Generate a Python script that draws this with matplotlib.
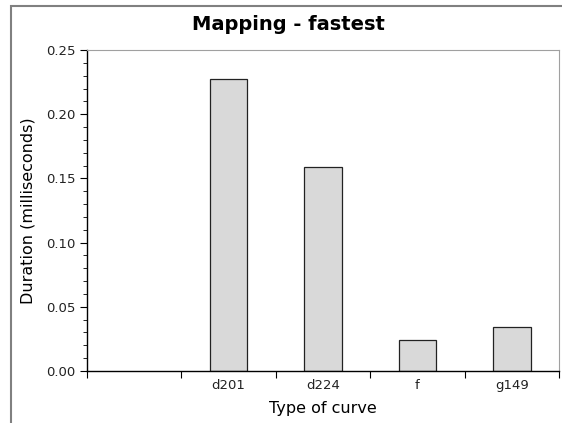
import matplotlib
matplotlib.use("Agg")
from matplotlib import pyplot as plt
from matplotlib.patches import Rectangle
from matplotlib.ticker import MultipleLocator

curves = ["d201", "d224", "f", "g149"]
durations = [0.2274, 0.1589, 0.0241, 0.0343]
positions = [1.5, 2.5, 3.5, 4.5]

fig = plt.figure(figsize=(5.62, 4.23), dpi=100)
# outer frame, running off the right and bottom edges
fig.patches.append(Rectangle((11 / 562, -0.05), 1.0, (423 - 6) / 423 + 0.05,
                             transform=fig.transFigure, fill=False,
                             edgecolor="#808080", linewidth=1.5))

ax = fig.add_axes([87 / 562, 52 / 423, 472 / 562, 321 / 423])
ax.bar(positions, durations, width=0.4, color="#d9d9d9",
       edgecolor="#222222", linewidth=0.9)

ax.set_xlim(0, 5)
ax.set_ylim(0, 0.25)
ax.set_xticks(range(6))
ax.set_xticklabels([])
ax.set_xticks(positions, minor=True)
ax.set_xticklabels(curves, minor=True)
ax.tick_params(axis="x", which="major", length=5, direction="out")
ax.tick_params(axis="x", which="minor", length=0, labelsize=9.5, pad=6,
               labelcolor="#222222")

ax.yaxis.set_major_locator(MultipleLocator(0.05))
ax.yaxis.set_minor_locator(MultipleLocator(0.01))
ax.yaxis.set_major_formatter(plt.FormatStrFormatter("%.2f"))
ax.tick_params(axis="y", which="major", length=5, direction="out", labelsize=9.5,
               labelcolor="#222222")
ax.tick_params(axis="y", which="minor", length=3, direction="out")

for side in ["top", "right"]:
    ax.spines[side].set_color("#a0a0a0")
ax.spines["left"].set_linewidth(1.0)
ax.spines["bottom"].set_linewidth(1.0)

ax.set_xlabel("Type of curve", fontsize=11.5, labelpad=6)
ax.set_ylabel("Duration (milliseconds)", fontsize=11.5, labelpad=7)
fig.text(288 / 562, 1 - 24 / 423, "Mapping - fastest", ha="center", va="center",
         fontsize=14, fontweight="bold")

fig.savefig("out.png", dpi=100)
